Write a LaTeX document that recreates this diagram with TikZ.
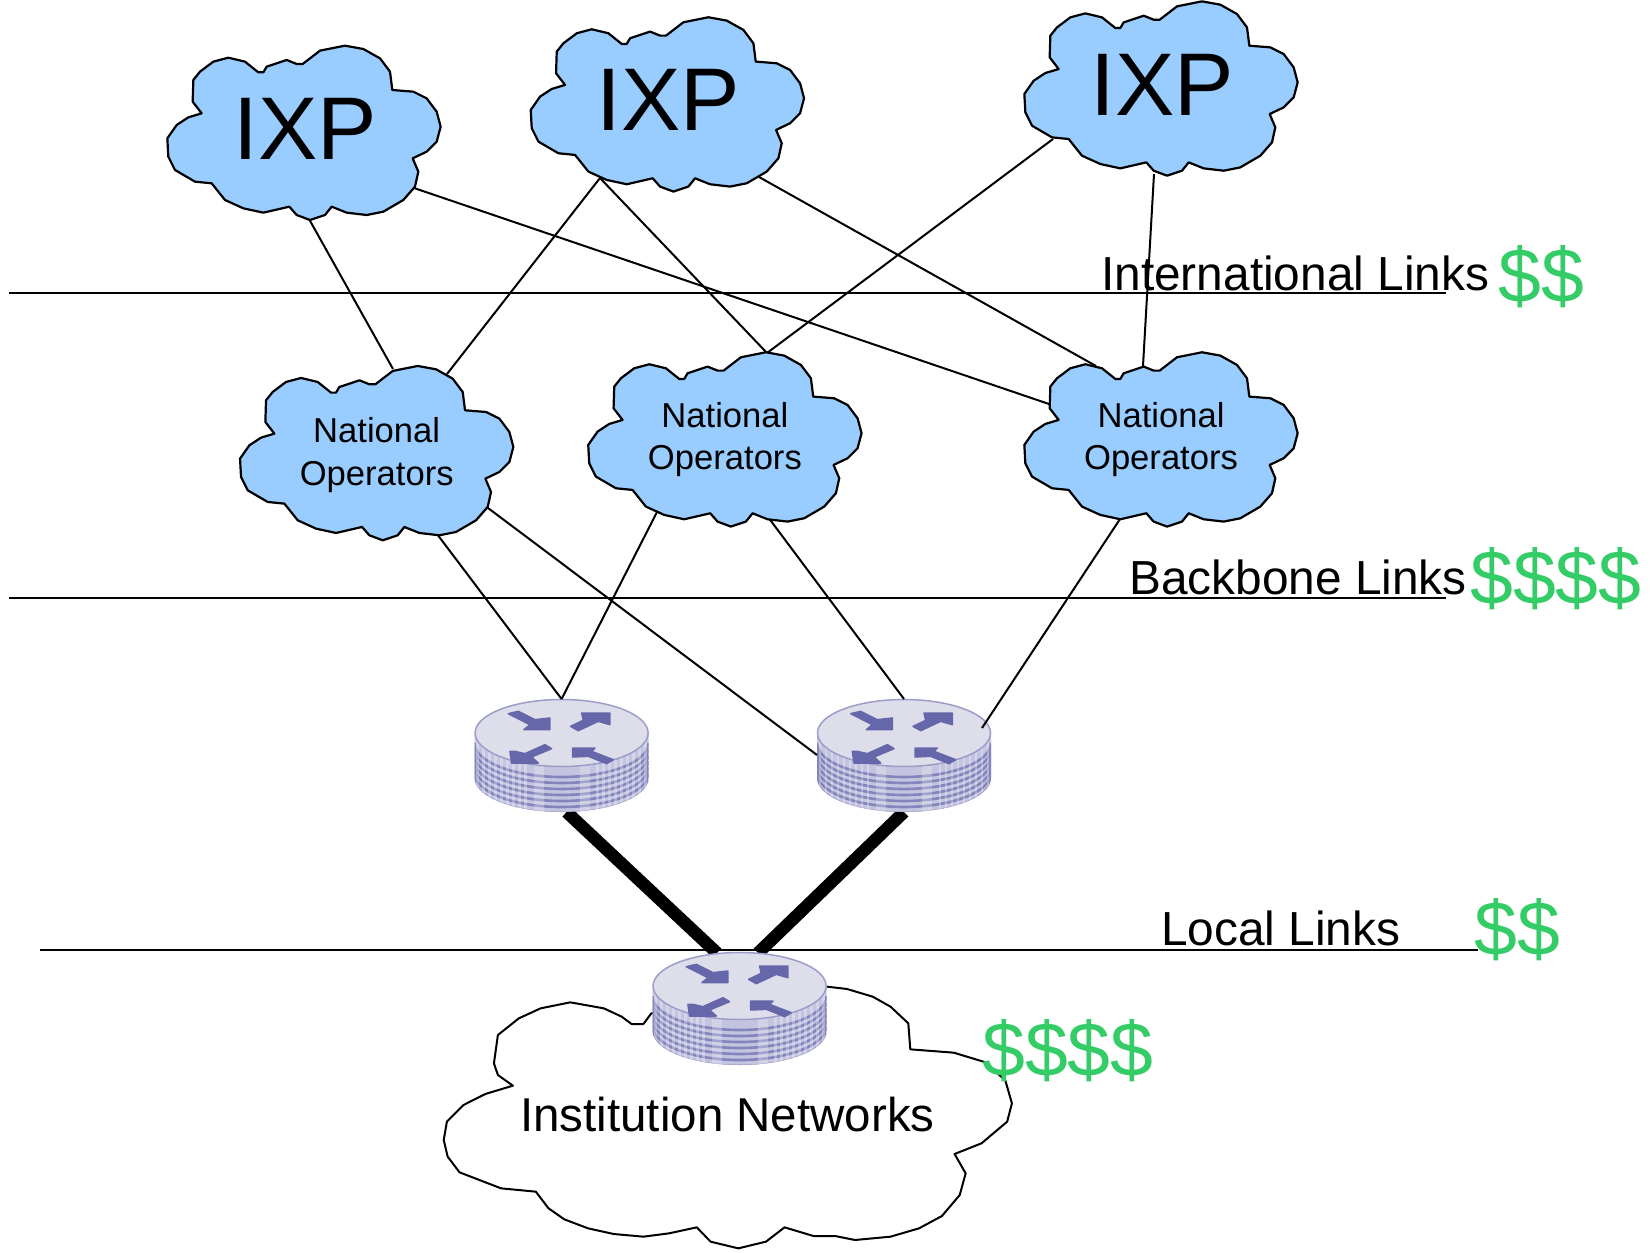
\documentclass[tikz,border=0pt]{standalone}
\usepackage{fontspec}
\setmainfont{Liberation Sans}
\definecolor{cloudblue}{HTML}{99CCFF}
\definecolor{moneygreen}{HTML}{33CC66}
\definecolor{rtop}{HTML}{DEDEEA}
\definecolor{rside}{HTML}{C4C4E0}
\definecolor{rstripe}{HTML}{8585BD}
\definecolor{rarrow}{HTML}{6666AA}
\newcommand{\bluecloud}{(325,127) -- (340,127) -- (350,110) -- (410,90) -- (440,102) -- (458,102) -- (510,62) -- (585,47) -- (640,57) -- (690,85) -- (720,125) -- (727,180) -- (790,185) -- (830,205) -- (860,245) -- (872,290) -- (860,335) -- (830,365) -- (788,385) -- (805,425) -- (795,470) -- (760,510) -- (700,545) -- (650,555) -- (590,548) -- (545,530) -- (525,555) -- (480,570) -- (440,555) -- (418,530) -- (340,548) -- (280,535) -- (225,510) -- (185,460) -- (135,455) -- (75,420) -- (55,380) -- (52,325) -- (80,285) -- (115,262) -- (155,250) -- (128,215) -- (130,150) -- (150,125) -- (190,95) -- (235,83) -- (285,95) -- cycle}
\tikzset{
  x=1pt,y=-1pt,
  link/.style={line width=2pt,black},
  hlink/.style={line width=2pt,black},
  thicklink/.style={line width=12.5pt,black},
  cloudbody/.style={draw=black,fill=cloudblue,line width=2.2pt,line join=round},
  ixptext/.style={inner sep=0pt,font=\fontsize{89}{89}\selectfont},
  nattext/.style={inner sep=0pt,align=center,xshift=-1pt,yshift=-4.5pt,font=\fontsize{34.6}{42}\selectfont},
  nattextwide/.style={inner sep=0pt,align=center,xshift=-1pt,yshift=-6pt,font=\fontsize{34.6}{43}\selectfont},
  linklabel/.style={inner sep=0pt,anchor=base west,font=\fontsize{47.8}{50}\selectfont},
  money/.style={inner sep=0pt,anchor=base west,text=moneygreen,font=\fontsize{77}{77}\selectfont},
  router/.pic={
    \def\bodypath{(-87,0) -- (-87,45) arc[start angle=180,end angle=360,x radius=87pt,y radius=34pt] -- (87,0) -- cycle}
    \fill[rside] \bodypath;
    \begin{scope}
      \clip \bodypath;
      \foreach \d in {10,16,22,28,34,40,46}
        \draw[rstripe,line width=2.6pt] (-87,\d) arc[start angle=180,end angle=360,x radius=87pt,y radius=34pt];
      \foreach \vx in {-84,-78,-72,-66,-60,-54,-48,-42,-36,36,42,48,54,60,66,72,78,84}
        \draw[white,opacity=.3,line width=2.6pt] (\vx,0) -- (\vx,82);
      \fill[white,opacity=.25] (-28,0) rectangle (-18,82);
      \fill[white,opacity=.25] (18,0) rectangle (28,82);
    \end{scope}
    \draw[rstripe!80,line width=1.5pt,fill=rtop] (0,0) ellipse[x radius=86.5pt,y radius=33.5pt];
    \begin{scope}[shift={(-111.67,-50)},scale=.33333]
      \filldraw[rarrow,line width=1.5pt,line join=round] (175,92) -- (205,85) -- (255,110) -- (300,105) -- (300,140) -- (222,140) -- (240,125) -- cycle;
      \filldraw[rarrow,line width=1.5pt,line join=round] (362,130) -- (400,112) -- (395,90) -- (480,90) -- (480,125) -- (445,115) -- (385,143) -- cycle;
      \filldraw[rarrow,line width=1.5pt,line join=round] (180,205) -- (195,205) -- (225,212) -- (285,185) -- (305,197) -- (245,222) -- (265,240) -- (185,240) -- cycle;
      \filldraw[rarrow,line width=1.5pt,line join=round] (368,195) -- (435,195) -- (425,205) -- (490,230) -- (470,242) -- (415,220) -- (368,222) -- cycle;
    \end{scope}
  }
}
\newcommand{\placecloud}[5]{% name, dx, dy, font style, text
  \begin{scope}[shift={(150+#2,30+#3)},scale=.33333]
    \draw[cloudbody] \bluecloud;
  \end{scope}
  \node[#4] (#1) at (305+#2,128.7+#3) {#5};
}
\begin{document}
\begin{tikzpicture}
\path[use as bounding box,fill=white] (0,0) rectangle (1652,1253);
% connector end points
\coordinate (ixpAs) at (309,219);
\coordinate (ixpAe) at (414,188);
\coordinate (ixpBs) at (600,178);
\coordinate (ixpBe) at (759,177);
\coordinate (ixpCw) at (1053,139);
\coordinate (ixpCs) at (1154,174);
\coordinate (natAn) at (393,369);
\coordinate (natAne) at (447,374);
\coordinate (natAs) at (437,534);
\coordinate (natAse) at (488,508);
\coordinate (natBn) at (767,353);
\coordinate (natBsw) at (657,512);
\coordinate (natBs) at (768,517);
\coordinate (natCw) at (1049,404);
\coordinate (natCn) at (1096,366);
\coordinate (natCne) at (1143,366);
\coordinate (natCs) at (1122,516);
\coordinate (rAtop) at (561.6,699);
\coordinate (rAbot) at (566.6,812);
\coordinate (rBtop) at (904,699);
\coordinate (rBbot) at (904,812);
\coordinate (rBleft) at (817,755);
\coordinate (rBright) at (982,728);
\coordinate (rCnw) at (717,953);
\coordinate (rCne) at (758,953);
\coordinate (hAw) at (8.5,293); \coordinate (hAe) at (1445.5,293);
\coordinate (hBw) at (8.5,597.5); \coordinate (hBe) at (1445.5,597.5);
\coordinate (hCw) at (40,949.5); \coordinate (hCe) at (1478,949.5);
% horizontal lines
\draw[hlink] (hAw) -- (hAe);
\draw[hlink] (hBw) -- (hBe);
% thick links below the routers
\draw[thicklink] (rAbot) -- (rCnw);
\draw[thicklink] (rBbot) -- (rCne);
\draw[hlink] (hCw) -- (hCe);
% institution cloud
\begin{scope}[shift={(420,940)},xscale=.3954,yscale=.33333]
\draw[draw=black,fill=white,line width=2pt,line join=round] (585,220) -- (565,252) -- (535,252) -- (510,230) -- (465,205) -- (380,187) -- (305,205) -- (250,235) -- (197,285) -- (187,370) -- (197,405) -- (235,437) -- (165,462) -- (110,495) -- (68,545) -- (60,600) -- (70,650) -- (100,697) -- (205,745) -- (293,755) -- (325,805) -- (365,838) -- (425,865) -- (490,882) -- (565,890) -- (630,880) -- (700,862) -- (735,905) -- (805,925) -- (875,905) -- (922,862) -- (995,888) -- (1050,888) -- (1100,900) -- (1190,890) -- (1262,865) -- (1320,828) -- (1365,765) -- (1380,700) -- (1352,642) -- (1420,610) -- (1485,545) -- (1497,490) -- (1480,420) -- (1425,365) -- (1350,338) -- (1240,328) -- (1235,250) -- (1190,200) -- (1145,170) -- (1080,147) -- (1030,140) -- cycle;
\end{scope}
% routers
\path (561.6,733) pic {router};
\path (904,733) pic {router};
\path (739.6,986) pic {router};
% thin links
\draw[link] (ixpAs) -- (natAn);
\draw[link] (ixpAe) -- (natCw);
\draw[link] (ixpBs) -- (natAne);
\draw[link] (ixpBs) -- (natBn);
\draw[link] (ixpBe) -- (natCn);
\draw[link] (ixpCw) -- (natBn);
\draw[link] (ixpCs) -- (natCne);
\draw[link] (natAs) -- (rAtop);
\draw[link] (natAse) -- (rBleft);
\draw[link] (natBsw) -- (rAtop);
\draw[link] (natBs) -- (rBtop);
\draw[link] (natCs) -- (rBright);
% clouds
\placecloud{ixpA}{0}{0}{ixptext}{IXP}
\placecloud{ixpB}{363.4}{-28.4}{ixptext}{IXP}
\placecloud{ixpC}{857}{-44.3}{ixptext}{IXP}
\placecloud{natA}{72.7}{320.3}{nattextwide}{National\\Operators}
\placecloud{natB}{420.9}{306.6}{nattext}{National\\Operators}
\placecloud{natC}{857}{306.6}{nattext}{National\\Operators}
% labels
\node[linklabel] (lblA) at (1101,290) {International Links};
\node[linklabel] (lblB) at (1129,594) {Backbone Links};
\node[linklabel] (lblC) at (1161,945) {Local Links};
\node[inner sep=0pt,anchor=base west,font=\fontsize{47.5}{47}\selectfont] (lblD) at (520,1131.5) {Institution Networks};
\node[money] (mA) at (1498.5,302) {\$\$};
\node[money] (mB) at (1470,604) {\$\$\$\$};
\node[money] (mC) at (1474.5,955) {\$\$};
\node[money] (mD) at (982,1076) {\$\$\$\$};
\end{tikzpicture}
\end{document}
